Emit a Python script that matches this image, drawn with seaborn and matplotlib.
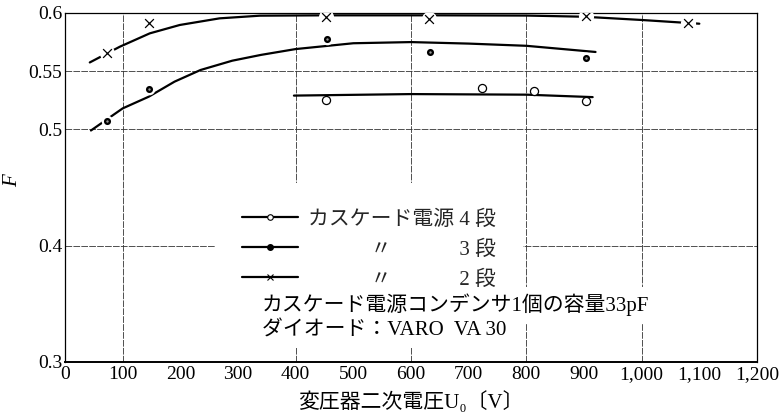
import matplotlib
matplotlib.use('Agg')
import matplotlib.pyplot as plt
from matplotlib.lines import Line2D
from matplotlib.ticker import FuncFormatter
import seaborn as sns

# 測定点 (変圧器二次電圧 U0 [V], F)
u_4 = [452, 723, 814, 904]
f_4 = [0.525, 0.5356, 0.5328, 0.5241]
u_3 = [72, 145, 454, 633, 904]
f_3 = [0.507, 0.5345, 0.5776, 0.5664, 0.5612]
u_2 = [72, 145, 452, 631, 904, 1081]
f_2 = [0.566, 0.591, 0.5966, 0.595, 0.597, 0.591]

# 手描きの近似曲線
curve_u_4 = [397, 600, 800, 915]
curve_f_4 = [0.529, 0.5303, 0.5298, 0.5277]
curve_u_3 = [45, 100, 145, 190, 235, 290, 340, 400, 500, 600, 700, 800, 920]
curve_f_3 = [0.499, 0.518, 0.528, 0.541, 0.551, 0.559, 0.564, 0.569, 0.574,
             0.575, 0.5737, 0.5718, 0.5665]
curve_u_2 = [43, 95, 147, 199, 268, 338, 450, 650, 800, 900, 1000, 1100]
curve_f_2 = [0.5575, 0.571, 0.5825, 0.5897, 0.5954, 0.5977, 0.598, 0.598,
             0.5978, 0.5968, 0.594, 0.5908]

x_ticks = list(range(0, 1201, 100))
y_ticks = [0.3, 0.4, 0.5, 0.55, 0.6]
y_ticklabels = ['0.3', '0.4', '0.5', '0.55', '0.6']
x_grid = [100, 400, 600, 800, 1000]
y_grid = [0.4, 0.5, 0.55]

legend_labels = ['カスケード電源 4 段', '\u3000\u3000\u3000〃\u3000\u3000\u3000 3 段',
                 '\u3000\u3000\u3000〃\u3000\u3000\u3000 2 段']
note_lines = ['カスケード電源コンデンサ1個の容量33pF', 'ダイオード：VARO  VA 30']

sns.set_theme(style='white')
plt.rcParams['font.family'] = ['Liberation Serif', 'Noto Sans CJK JP', 'DejaVu Serif']
JP = ['Liberation Serif', 'Noto Sans CJK JP', 'DejaVu Serif']

fig = plt.figure(figsize=(7.82, 4.17), dpi=100)
ax = fig.add_axes([65 / 782, 55 / 417, 692 / 782, 349 / 417])

# グリッド (破線)
for gx in x_grid:
    ax.axvline(gx, color='#333333', lw=0.6, ls=(0, (8, 1.5)), zorder=1)
for gy in y_grid:
    ax.axhline(gy, color='#333333', lw=0.6, ls=(0, (8, 1.5)), zorder=1)

# 曲線
lw = 1.6
sns.lineplot(x=curve_u_4, y=curve_f_4, ax=ax, color='black', lw=lw, estimator=None, sort=False, zorder=2)
sns.lineplot(x=curve_u_3, y=curve_f_3, ax=ax, color='black', lw=lw, estimator=None, sort=False, zorder=2)
sns.lineplot(x=curve_u_2, y=curve_f_2, ax=ax, color='black', lw=lw, estimator=None, sort=False, zorder=2)

# 測定点
sns.scatterplot(x=u_2, y=f_2, ax=ax, marker='o', s=120, color='white', linewidth=0, zorder=3)
sns.scatterplot(x=u_2, y=f_2, ax=ax, marker='x', s=40, color='black', linewidth=0.9, zorder=4)
sns.scatterplot(x=u_3, y=f_3, ax=ax, marker='o', s=70, color='white', linewidth=0, zorder=3)
sns.scatterplot(x=u_3, y=f_3, ax=ax, marker='o', s=26, color='black', linewidth=0, zorder=4)
sns.scatterplot(x=u_3, y=f_3, ax=ax, marker='o', s=3, color='#999999', linewidth=0, zorder=5)
sns.scatterplot(x=u_4, y=f_4, ax=ax, marker='o', s=34, facecolor='white', edgecolor='black',
                linewidth=0.9, zorder=4)

ax.set_xlim(0, 1200)
ax.set_ylim(0.3, 0.6)
ax.set_xticks(x_ticks)
ax.xaxis.set_major_formatter(FuncFormatter(lambda v, p: f'{int(v):,}'))
ax.set_yticks(y_ticks)
ax.set_yticklabels(y_ticklabels)
ax.tick_params(axis='both', direction='in', length=4, width=0.8, color='black',
               labelsize=14, labelcolor='black')
ax.tick_params(axis='x', pad=3)
ax.tick_params(axis='y', pad=2)
for s in ax.spines.values():
    s.set_visible(True)
    s.set_color('black')
    s.set_linewidth(0.9)
ax.spines['bottom'].set_linewidth(1.4)

ax.set_xlabel('変圧器二次電圧U₀〔V〕', fontsize=15, family=JP, color='black', labelpad=6)
ax.set_ylabel('F', fontsize=15, fontstyle='italic', family='Liberation Serif', color='black')
ax.yaxis.set_label_coords(-0.062, 0.52)

# 凡例
handles = [
    Line2D([0], [0], color='black', lw=lw, marker='o', ms=4, mfc='white', mec='black', mew=0.8),
    Line2D([0], [0], color='black', lw=lw, marker='o', ms=4, mfc='black', mec='black'),
    Line2D([0], [0], color='black', lw=lw, marker='x', ms=4, mec='black', mew=0.8),
]
leg = ax.legend(handles, legend_labels, loc='upper left', bbox_to_anchor=(0.2168, 0.513),
                borderaxespad=0, borderpad=1.3, handlelength=2.7, handletextpad=0.45,
                labelspacing=0.5, frameon=True, fancybox=False,
                prop=dict(family=JP, size=15))
leg.get_frame().set_facecolor('white')
leg.get_frame().set_edgecolor('none')
leg.get_frame().set_alpha(1)

box = dict(boxstyle='square,pad=0.35', fc='white', ec='none')
ax.text(0.2847, 0.163, note_lines[0], transform=ax.transAxes, ha='left', va='center',
        fontsize=15, family=JP, color='black', bbox=box, zorder=6)
ax.text(0.2847, 0.0888, note_lines[1], transform=ax.transAxes, ha='left', va='center',
        fontsize=15, family=JP, color='black', bbox=box, zorder=6)

fig.savefig('out.png', dpi=100)
